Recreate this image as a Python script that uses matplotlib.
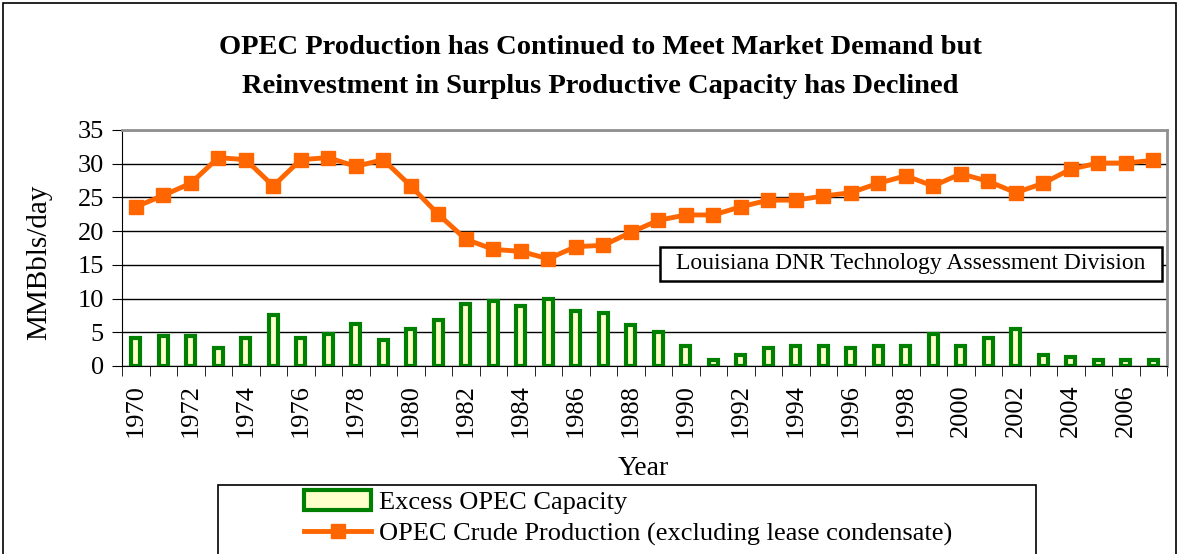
import numpy as np
import matplotlib
matplotlib.use("Agg")
import matplotlib.pyplot as plt
from matplotlib.patches import Rectangle, Patch
from matplotlib.lines import Line2D

years = list(range(1970, 2008))
production = [23.6, 25.3, 27.1, 30.9, 30.6, 26.7, 30.6, 30.9, 29.6, 30.6,
              26.7, 22.5, 18.8, 17.3, 17.0, 15.9, 17.7, 17.9, 19.8, 21.6,
              22.4, 22.4, 23.6, 24.6, 24.6, 25.2, 25.7, 27.1, 28.2, 26.7,
              28.5, 27.4, 25.7, 27.1, 29.2, 30.1, 30.1, 30.5]
excess = [4.1, 4.4, 4.4, 2.7, 4.1, 7.5, 4.1, 4.8, 6.2, 3.8,
          5.5, 6.8, 9.2, 9.6, 8.9, 9.9, 8.2, 7.8, 6.1, 5.1,
          3.0, 0.9, 1.7, 2.7, 3.0, 3.0, 2.7, 3.0, 3.0, 4.8,
          3.0, 4.1, 5.5, 1.7, 1.3, 0.9, 0.9, 0.9]

title = ("OPEC Production has Continued to Meet Market Demand but\n"
         "Reinvestment in Surplus Productive Capacity has Declined")
credit = "Louisiana DNR Technology Assessment Division"

plt.rcParams['font.family'] = ['Liberation Serif', 'DejaVu Serif']

orange = '#FF6600'
green = '#008000'
cream = '#FFFFCC'

W, H = 1179, 554
fig = plt.figure(figsize=(W / 100, H / 100), dpi=100)
ax = fig.add_axes([122 / W, 1 - 366 / H, 1045 / W, 236 / H])

x = np.arange(len(years))
ax.bar(x, excess, width=0.32, color=cream, edgecolor=green, linewidth=3,
       zorder=3)
ax.plot(x, production, '-s', color=orange, linewidth=3.5, markersize=10.5,
        zorder=4)

ax.set_xlim(-0.5, len(years) - 0.5)
ax.set_ylim(0, 35)
ax.set_yticks(range(0, 36, 5))
ax.yaxis.grid(True, color='black', linewidth=1)
ax.set_axisbelow(True)

ax.set_xticks(x[::2])
ax.set_xticklabels([str(y) for y in years[::2]], rotation=90)
ax.set_xticks(np.arange(-0.5, len(years)), minor=True)
ax.tick_params(axis='x', which='major', length=0, pad=13, labelsize=19)
ax.tick_params(axis='x', which='minor', length=7, direction='out')
ax.tick_params(axis='y', length=7, direction='out', labelsize=19, pad=6)

ax.spines['top'].set_color('#909090')
ax.spines['right'].set_color('#909090')
ax.spines['top'].set_linewidth(2)
ax.spines['right'].set_linewidth(2)

ax.set_ylabel("MMBbls/day", fontsize=21)
ax.yaxis.set_label_coords((52 - 122) / 1045, (366 - 262) / 236)
ax.set_xlabel("Year", fontsize=20)
ax.xaxis.set_label_coords((643 - 122) / 1045, (366 - 456) / 236)

# credit box
bx0, bx1 = (660 - 122) / 1045, (1162 - 122) / 1045
by0, by1 = (366 - 281) / 236, (366 - 247) / 236
ax.add_patch(Rectangle((bx0, by0), bx1 - bx0, by1 - by0,
                       transform=ax.transAxes, facecolor='white',
                       edgecolor='black', linewidth=1.8, zorder=6))
ax.text((bx0 + bx1) / 2, (by0 + by1) / 2, credit, transform=ax.transAxes,
        ha='center', va='center', fontsize=17, zorder=7)

fig.text(0.509, 0.879, title, ha='center', va='center', fontsize=20.5,
         fontweight='bold', linespacing=1.75)

# outer border and legend frame
fig.patches.append(Rectangle((3 / W, -0.1), 1173 / W, 1.1 - 3 / H,
                             transform=fig.transFigure, fill=False,
                             edgecolor='black', linewidth=1.2))
fig.patches.append(Rectangle((218 / W, -0.1), 818 / W, 0.1 + 1 - 485 / H,
                             transform=fig.transFigure, facecolor='white',
                             edgecolor='black', linewidth=1.2))

handles = [Patch(facecolor=cream, edgecolor=green, linewidth=3),
           Line2D([], [], color=orange, linewidth=3.5, marker='s',
                  markersize=10.5)]
labels = ["Excess OPEC Capacity",
          "OPEC Crude Production (excluding lease condensate)"]
fig.legend(handles, labels, loc='upper left',
           bbox_to_anchor=(291 / W, 1 - 477 / H), frameon=False,
           fontsize=19, handlelength=2.55, handleheight=0.75,
           handletextpad=0.3, labelspacing=0.28, borderpad=0)

fig.savefig("out.png", dpi=100)
